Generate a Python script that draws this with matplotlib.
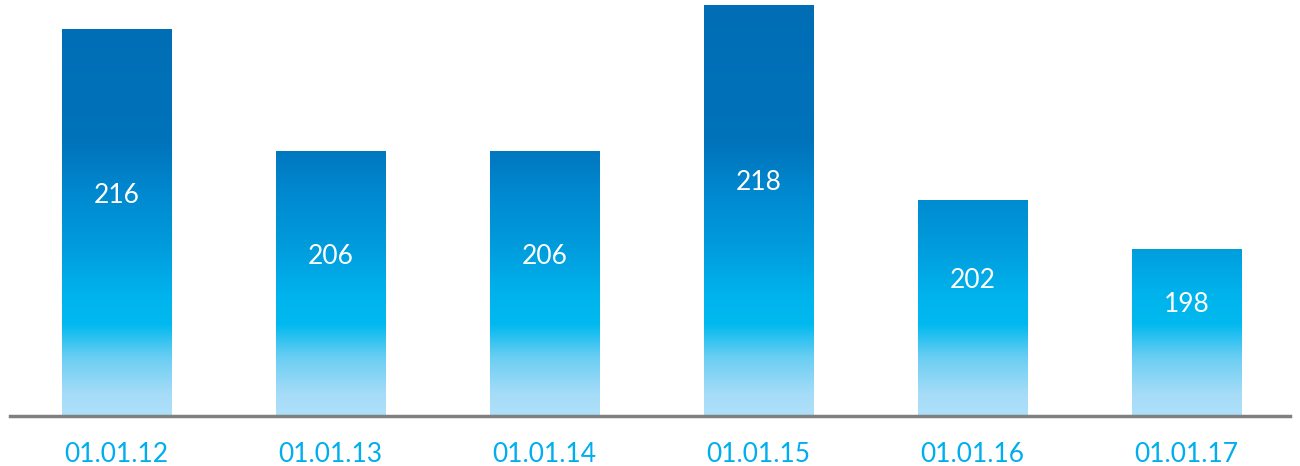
import numpy as np
import matplotlib
matplotlib.use("Agg")
import matplotlib.pyplot as plt
from matplotlib.colors import LinearSegmentedColormap

# ── Data ──────────────────────────────────────────────────────────────────────
dates = ["01.01.12", "01.01.13", "01.01.14", "01.01.15", "01.01.16", "01.01.17"]
values = [216, 206, 206, 218, 202, 198]

Y_MIN, Y_MAX = 184.3, 218.4
LABEL_ANCHOR = 188.8  # value labels sit halfway between this and the bar top

# vertical fill: light cyan at the axis, deep blue towards the top
grad = LinearSegmentedColormap.from_list("bar_fill", [
    (0.00, "#AEE0F9"),
    (0.05, "#A6DCF8"),
    (0.14, "#6ACEF3"),
    (0.22, "#00B9EF"),
    (0.29, "#00B3EC"),
    (0.40, "#009DDD"),
    (0.54, "#0088CF"),
    (0.66, "#0073BB"),
    (1.00, "#006DB4"),
])

plt.rcParams["font.family"] = ["Lato", "DejaVu Sans"]

fig = plt.figure(figsize=(13, 4.66), dpi=100)
ax = fig.add_axes([10 / 1300, 50 / 466, 1280 / 1300, 416 / 466])

x = np.arange(len(values))
ax.set_xlim(-0.498, 5.484)
ax.set_ylim(Y_MIN, Y_MAX)

bars = ax.bar(x, values, width=0.51, color="none", edgecolor="none")
img = np.linspace(0, 1, 256).reshape(-1, 1)
for bar in bars:
    im = ax.imshow(img, cmap=grad, origin="lower", aspect="auto",
                   extent=[-0.498, 5.484, Y_MIN, Y_MAX], interpolation="bilinear")
    im.set_clip_path(bar)

for xi, v in zip(x, values):
    ax.text(xi, (v + LABEL_ANCHOR) / 2, str(v), ha="center", va="center",
            color="white", fontsize=19)

ax.set_xticks(x, dates)
ax.tick_params(axis="x", length=0, pad=19, labelsize=19, labelcolor="#00AEEF")
ax.set_yticks([])
for side in ("top", "left", "right"):
    ax.spines[side].set_visible(False)
ax.spines["bottom"].set_color("#808080")
ax.spines["bottom"].set_linewidth(2.5)
ax.spines["bottom"].set_zorder(5)

fig.savefig("out.png", dpi=100)
